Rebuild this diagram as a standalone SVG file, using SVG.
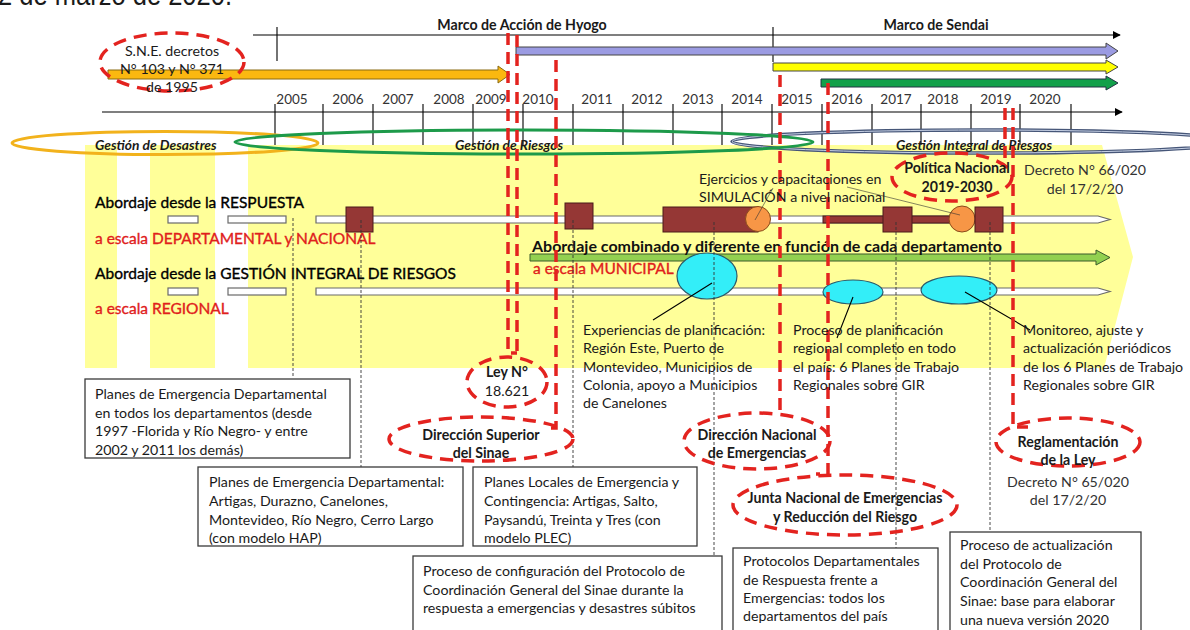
<svg xmlns="http://www.w3.org/2000/svg" width="1190" height="630" viewBox="0 0 1190 630">
<defs>
<style>
text{font-family:Lato,"Liberation Sans",sans-serif;fill:#1a1a1a}
.t{font-size:14.2px}
.b{font-weight:bold}
.c{text-anchor:middle}
.yr{font-size:13.5px;fill:#333;text-anchor:middle}
.row{font-size:15.5px;fill:#000;stroke:#000;stroke-width:0.35}
.red{font-size:15.5px;fill:#e0201c;stroke:#e0201c;stroke-width:0.35}
.gi{font-size:13.8px;font-style:italic;font-weight:bold}
.rd{fill:none;stroke:#e3231f;stroke-width:3.5;stroke-dasharray:12 7}
.re{fill:none;stroke:#e3231f;stroke-width:3.5;stroke-dasharray:13 8}
.dot{fill:none;stroke:#333;stroke-width:0.9;stroke-dasharray:3 2}
.box{fill:#fff;stroke:#3a3a3a;stroke-width:1.3}
.trk{fill:#fff;stroke:#6a6a6a;stroke-width:1.2}
.br{fill:#953735;stroke:#4a1a1a;stroke-width:1}
.oc{fill:#f79646;stroke:#8a4a1a;stroke-width:1}
.cy{fill:#33eef8;stroke:#2a5a6a;stroke-width:1.2}
.ln{stroke:#000;stroke-width:1.1;fill:none}
.ld{stroke:#333;stroke-width:0.6;fill:none}
</style>
<marker id="ah" viewBox="0 0 10 10" refX="9" refY="5" markerWidth="8" markerHeight="8" markerUnits="userSpaceOnUse" orient="auto"><path d="M0,0 L10,5 L0,10 Z" fill="#000"/></marker>
</defs>
<rect width="1190" height="630" fill="#fff"/>
<text x="-2" y="5" style="font-family:'Liberation Sans',sans-serif;font-size:30px" textLength="234" lengthAdjust="spacingAndGlyphs">2  de marzo de 2020.</text>

<g id="background">
<path d="M85,145 H117 V368 H85 Z M150,145 H215 V368 H150 Z M248,145 H1102 L1133,257 L1103,372 L1100,368 H248 Z" fill="#ffff99"/>
</g>

<g id="frameworks">
<line x1="253" y1="35" x2="1120" y2="35" class="ln" marker-end="url(#ah)"/>
<line x1="277" y1="27" x2="277" y2="61" class="ln"/>
<line x1="773" y1="27" x2="773" y2="62" class="ln"/>
<text x="522" y="30" class="t b c">Marco de Acción de Hyogo</text>
<text x="936" y="30" class="t b c">Marco de Sendai</text>
<path d="M516,47 H1106 V43 L1118,51 L1106,59 V55 H516 Z" fill="#9b9be2" stroke="#444" stroke-width="1"/>
<path d="M773,63 H1106 V60 L1118,67 L1106,74 V71 H773 Z" fill="#ffff00" stroke="#444" stroke-width="1"/>
<path d="M821,79 H1106 V76 L1118,83 L1106,90 V87 H821 Z" fill="#12a04a" stroke="#234" stroke-width="1"/>
<path d="M108,70 H498 V66 L510,74.5 L498,83 V79 H108 Z" fill="#fbb810" stroke="#8a6a10" stroke-width="1"/>
</g>

<g id="sne">
<ellipse cx="172" cy="62" rx="72" ry="29" class="re"/>
<text x="172" y="56" class="t c">S.N.E. decretos</text>
<text x="172" y="74" class="t c">N° 103 y N° 371</text>
<text x="172" y="92" class="t c">de 1995</text>
</g>

<g id="axis">
<line x1="102" y1="112" x2="1122" y2="112" class="ln" marker-end="url(#ah)"/>
<path d="M275,104V145 M323,104V145 M373,104V145 M423,104V145 M473,104V145 M523,104V145 M573,104V145 M623,104V145 M673,104V145 M722,104V145 M772,104V145 M822,104V145 M872,104V145 M921,104V145 M971,104V145 M1020,104V145 M1071,104V145" class="ln" stroke-width="0.9"/>
<text x="292" y="104" class="yr">2005</text>
<text x="348" y="104" class="yr">2006</text>
<text x="398" y="104" class="yr">2007</text>
<text x="449" y="104" class="yr">2008</text>
<text x="491" y="104" class="yr">2009</text>
<text x="538" y="104" class="yr">2010</text>
<text x="597" y="104" class="yr">2011</text>
<text x="647" y="104" class="yr">2012</text>
<text x="698" y="104" class="yr">2013</text>
<text x="747" y="104" class="yr">2014</text>
<text x="797" y="104" class="yr">2015</text>
<text x="847" y="104" class="yr">2016</text>
<text x="896" y="104" class="yr">2017</text>
<text x="943" y="104" class="yr">2018</text>
<text x="996" y="104" class="yr">2019</text>
<text x="1045" y="104" class="yr">2020</text>
</g>

<g id="stages">
<ellipse cx="983" cy="141.5" rx="251" ry="11.5" fill="none" stroke="#465678" stroke-width="3.5"/>
<ellipse cx="983" cy="141.5" rx="251" ry="11.5" fill="none" stroke="#c8d2e6" stroke-width="1"/>
<ellipse cx="165" cy="143" rx="153" ry="11.5" fill="none" stroke="#f2b21c" stroke-width="3"/>
<ellipse cx="524" cy="142" rx="289" ry="12" fill="none" stroke="#1d9a4a" stroke-width="3"/>
<text x="95" y="150" class="gi">Gestión de Desastres</text>
<text x="455" y="150" class="gi">Gestión de Riesgos</text>
<text x="896" y="150" class="gi">Gestión Integral de Riesgos</text>
</g>

<g id="row-respuesta">
<text x="95" y="208" class="row">Abordaje desde la RESPUESTA</text>
<rect x="168" y="216" width="30" height="7" class="trk"/>
<rect x="228" y="216" width="58" height="7" class="trk"/>
<path d="M316,216 H1098 L1110,219.5 L1098,223 H316 Z" class="trk"/>
<text x="95" y="244" class="red">a escala DEPARTAMENTAL y NACIONAL</text>
<rect x="346" y="207" width="27" height="25" class="br"/>
<rect x="565" y="203" width="28" height="26" class="br"/>
<rect x="663" y="207" width="95" height="25" class="br"/>
<circle cx="758" cy="219" r="12.5" class="oc"/>
<rect x="823" y="216" width="127" height="7" class="br"/>
<rect x="883" y="207" width="29" height="25" class="br"/>
<circle cx="962" cy="219" r="13" class="oc"/>
<rect x="975" y="207" width="28" height="25" class="br"/>
</g>

<g id="row-combinado">
<path d="M530,254 H1096 V250 L1110,257.5 L1096,265 V261 H530 Z" fill="#92d050" stroke="#3a5a2a" stroke-width="1"/>
<text x="532" y="252" class="b" style="font-size:16px;fill:#111">Abordaje combinado y diferente en función de cada departamento</text>
<text x="533" y="274" class="red">a escala MUNICIPAL</text>
</g>

<g id="row-gir">
<text x="95" y="279" class="row">Abordaje desde la GESTIÓN INTEGRAL DE RIESGOS</text>
<rect x="168" y="288" width="30" height="7" class="trk"/>
<rect x="228" y="288" width="58" height="7" class="trk"/>
<path d="M316,288 H1098 L1110,291.5 L1098,295 H316 Z" class="trk"/>
<text x="95" y="314" class="red">a escala REGIONAL</text>
<ellipse cx="707" cy="276" rx="30" ry="23" class="cy"/>
<ellipse cx="853" cy="292" rx="30" ry="12" class="cy"/>
<ellipse cx="959" cy="290" rx="38" ry="14" class="cy"/>
</g>

<g id="connectors">
<path d="M293,218V378 M361,220V467 M573,220V467 M714,222V556 M896,222V548 M990,222V532" class="dot"/>
<path d="M712,283 L653,320 M853,297 L837,338 M965,292 L1030,330" class="ln" stroke-width="0.9"/>
<path d="M773,188 L755,220 M847,187 L960,215" class="ld"/>
<path d="M508,33 V353 H517 M517,35 V353" class="rd"/>
<path d="M556,60 V428 H546" class="rd"/>
<path d="M780,75 V412" class="rd"/>
<path d="M828,83 V474 H816" class="rd"/>
<path d="M1005,108 V162" class="rd"/>
<path d="M1013,108 V427 H1028" class="rd"/>
</g>

<g id="ejercicios">
<text x="699" y="184" class="t">Ejercicios y capacitaciones en</text>
<text x="699" y="202" class="t">SIMULACIÓN a nivel nacional</text>
</g>

<g id="politica">
<ellipse cx="952" cy="177" rx="60" ry="24" class="re"/>
<text x="957" y="173" class="t b c">Política Nacional</text>
<text x="957" y="192" class="t b c">2019-2030</text>
</g>

<g id="decreto66">
<text x="1085" y="175" class="t c" style="fill:#333">Decreto N° 66/020</text>
<text x="1085" y="194" class="t c" style="fill:#333">del 17/2/20</text>
</g>

<g id="experiencias">
<text x="583" y="335" class="t">Experiencias de planificación:</text>
<text x="583" y="353" class="t">Región Este, Puerto de</text>
<text x="583" y="372" class="t">Montevideo, Municipios de</text>
<text x="583" y="390" class="t">Colonia, apoyo a Municipios</text>
<text x="583" y="408" class="t">de Canelones</text>
</g>

<g id="proceso-planificacion">
<text x="793" y="335" class="t">Proceso de planificación</text>
<text x="793" y="353" class="t">regional completo en todo</text>
<text x="793" y="372" class="t">el país: 6 Planes de Trabajo</text>
<text x="793" y="390" class="t">Regionales sobre GIR</text>
</g>

<g id="monitoreo">
<text x="1023" y="335" class="t">Monitoreo, ajuste y</text>
<text x="1023" y="353" class="t">actualización periódicos</text>
<text x="1023" y="372" class="t">de los 6 Planes de Trabajo</text>
<text x="1023" y="390" class="t">Regionales sobre GIR</text>
</g>

<g id="ley">
<ellipse cx="507" cy="382" rx="40" ry="25" class="re"/>
<text x="507" y="377" class="t b c">Ley N°</text>
<text x="507" y="396" class="t c">18.621</text>
</g>

<g id="direccion-superior">
<ellipse cx="481" cy="439" rx="92" ry="22" class="re"/>
<text x="481" y="440" class="t b c">Dirección Superior</text>
<text x="481" y="458" class="t b c">del Sinae</text>
</g>

<g id="direccion-nacional">
<ellipse cx="757" cy="441" rx="73" ry="28" class="re"/>
<text x="757" y="440" class="t b c">Dirección Nacional</text>
<text x="757" y="458" class="t b c">de Emergencias</text>
</g>

<g id="junta">
<ellipse cx="845" cy="505" rx="112" ry="30" class="re"/>
<text x="845" y="503" class="t b c">Junta Nacional de Emergencias</text>
<text x="845" y="522" class="t b c">y Reducción del Riesgo</text>
</g>

<g id="reglamentacion">
<ellipse cx="1068" cy="442" rx="72" ry="24" class="re"/>
<text x="1068" y="447" class="t b c">Reglamentación</text>
<text x="1068" y="465" class="t b c">de la Ley</text>
<text x="1068" y="487" class="t c" style="fill:#333">Decreto N° 65/020</text>
<text x="1068" y="505" class="t c" style="fill:#333">del 17/2/20</text>
</g>

<g id="box-planes-todos">
<rect x="85" y="379" width="265" height="79" class="box"/>
<text x="95" y="399" class="t">Planes de Emergencia Departamental</text>
<text x="95" y="418" class="t">en todos los departamentos (desde</text>
<text x="95" y="436" class="t">1997 -Florida y Río Negro- y entre</text>
<text x="95" y="455" class="t">2002 y 2011 los demás)</text>
</g>

<g id="box-planes-hap">
<rect x="198" y="467" width="265" height="79" class="box"/>
<text x="209" y="487" class="t">Planes de Emergencia Departamental:</text>
<text x="209" y="506" class="t">Artigas, Durazno, Canelones,</text>
<text x="209" y="525" class="t">Montevideo, Río Negro, Cerro Largo</text>
<text x="209" y="543" class="t">(con modelo HAP)</text>
</g>

<g id="box-plec">
<rect x="473" y="467" width="224" height="79" class="box"/>
<text x="484" y="487" class="t">Planes Locales de Emergencia y</text>
<text x="484" y="506" class="t">Contingencia: Artigas, Salto,</text>
<text x="484" y="525" class="t">Paysandú, Treinta y Tres (con</text>
<text x="484" y="543" class="t">modelo PLEC)</text>
</g>

<g id="box-protocolo-config">
<rect x="413" y="556" width="309" height="80" class="box"/>
<text x="423" y="576" class="t">Proceso de configuración del Protocolo de</text>
<text x="423" y="595" class="t">Coordinación General del Sinae durante la</text>
<text x="423" y="613" class="t">respuesta a emergencias y desastres súbitos</text>
</g>

<g id="box-protocolos-dept">
<rect x="733" y="548" width="205" height="90" class="box"/>
<text x="743" y="566" class="t">Protocolos Departamentales</text>
<text x="743" y="585" class="t">de Respuesta frente a</text>
<text x="743" y="603" class="t">Emergencias: todos los</text>
<text x="743" y="621" class="t">departamentos del país</text>
</g>

<g id="box-actualizacion">
<rect x="950" y="532" width="191" height="106" class="box"/>
<text x="960" y="550" class="t">Proceso de actualización</text>
<text x="960" y="569" class="t">del Protocolo de</text>
<text x="960" y="587" class="t">Coordinación General del</text>
<text x="960" y="606" class="t">Sinae: base para elaborar</text>
<text x="960" y="625" class="t">una nueva versión 2020</text>
</g>
</svg>
